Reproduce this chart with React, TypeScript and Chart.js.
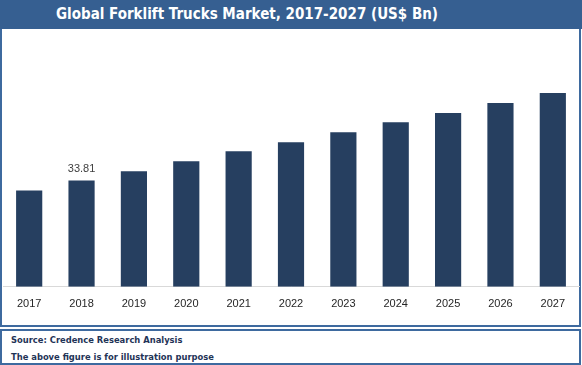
import React, { useEffect, useRef } from "react";
import { Chart, registerables } from "chart.js";

Chart.register(...registerables);

const years: string[] = ["2017", "2018", "2019", "2020", "2021", "2022", "2023", "2024", "2025", "2026", "2027"];
const marketSize: number[] = [30.6, 33.81, 36.7, 39.9, 43.1, 45.9, 49.1, 52.3, 55.2, 58.4, 61.6];
const labeledIndices: number[] = [1];
const titleText = "Global Forklift Trucks Market, 2017-2027 (US$ Bn)";
const sourceText = "Source: Credence Research Analysis";
const noteText = "The above figure is for illustration purpose";

const BAR_COLOR = "#263F60";
const FRAME_COLOR = "#3E6A9F";
const TITLE_BG = "#365F91";

const valueLabelPlugin = {
  id: "valueLabel",
  afterDatasetsDraw(chart: any) {
    const ctx = chart.ctx;
    const meta = chart.getDatasetMeta(0);
    const data = chart.data.datasets[0].data as number[];
    ctx.save();
    ctx.font = "11px 'Liberation Sans', Arial, sans-serif";
    ctx.fillStyle = "#404040";
    ctx.textAlign = "center";
    ctx.textBaseline = "bottom";
    labeledIndices.forEach((i) => {
      const el = meta.data[i];
      if (!el) return;
      ctx.fillText(data[i].toFixed(2), el.x, el.y - 6);
    });
    ctx.restore();
  },
};

export default function App() {
  const canvasRef = useRef<HTMLCanvasElement | null>(null);

  useEffect(() => {
    document.body.style.margin = "0";
    const canvas = canvasRef.current;
    if (!canvas) return;
    const chart = new Chart(canvas, {
      type: "bar",
      data: {
        labels: years,
        datasets: [
          {
            data: marketSize,
            backgroundColor: BAR_COLOR,
            borderWidth: 0,
            categoryPercentage: 1,
            barPercentage: 0.5,
          },
        ],
      },
      options: {
        animation: false,
        responsive: false,
        maintainAspectRatio: false,
        layout: { padding: { top: 5, left: 3, right: 3, bottom: 11 } },
        plugins: {
          legend: { display: false },
          tooltip: { enabled: false },
          title: { display: false },
        },
        scales: {
          x: {
            grid: { display: false },
            border: { display: true, color: "#D9D9D9", width: 1 },
            ticks: {
              color: "#262626",
              padding: 3,
              font: { family: "'Liberation Sans', Arial, sans-serif", size: 11 },
            },
          },
          y: {
            display: false,
            min: 0,
            max: 80,
          },
        },
      },
      plugins: [valueLabelPlugin],
    });
    return () => chart.destroy();
  }, []);

  return (
    <div style={{ position: "relative", width: 582, height: 365, background: "#fff", overflow: "hidden" }}>
      <div
        style={{
          position: "absolute",
          left: 0,
          top: 0,
          width: 582,
          height: 29,
          background: TITLE_BG,
        }}
      />
      <div
        style={{
          position: "absolute",
          left: 0,
          top: 0,
          width: 494,
          height: 29,
          lineHeight: "28px",
          textAlign: "center",
          color: "#fff",
          fontFamily: "'DejaVu Sans Condensed', 'DejaVu Sans', sans-serif",
          fontWeight: "bold",
          fontSize: 15,
          whiteSpace: "nowrap",
        }}
      >
        {titleText}
      </div>
      <div
        style={{
          position: "absolute",
          left: 0,
          top: 29,
          width: 581,
          height: 298,
          boxSizing: "border-box",
          borderLeft: `2px solid ${FRAME_COLOR}`,
          borderRight: `2px solid ${FRAME_COLOR}`,
          borderBottom: `2px solid ${FRAME_COLOR}`,
        }}
      />
      <canvas
        ref={canvasRef}
        width={582}
        height={295}
        style={{ position: "absolute", left: 0, top: 30, width: 582, height: 295 }}
      />
      <div
        style={{
          position: "absolute",
          left: 0,
          top: 329,
          width: 581,
          height: 36,
          boxSizing: "border-box",
          border: `2px solid ${FRAME_COLOR}`,
          paddingLeft: 9,
          paddingTop: 0,
          color: "#1F3457",
          fontFamily: "'DejaVu Sans Condensed', 'DejaVu Sans', sans-serif",
          fontWeight: "bold",
          fontSize: 9.3,
          lineHeight: "17px",
          whiteSpace: "nowrap",
        }}
      >
        <div>{sourceText}</div>
        <div>{noteText}</div>
      </div>
    </div>
  );
}
